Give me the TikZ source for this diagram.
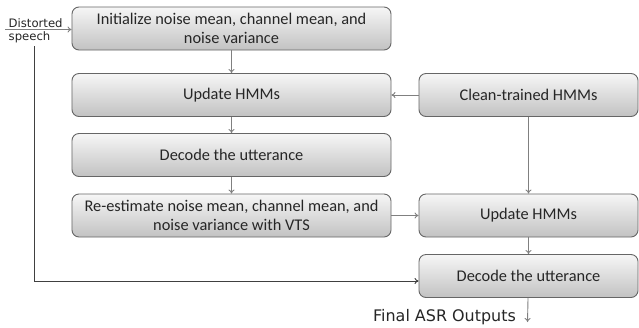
\documentclass[tikz,border=0pt]{standalone}
\usepackage{fontspec}
\setmainfont{Carlito}
\newfontfamily\lblfont{DejaVu Sans}
\usetikzlibrary{arrows.meta}
\definecolor{boxedge}{HTML}{666666}
\definecolor{boxtop}{HTML}{F6F6F6}
\definecolor{boxbot}{HTML}{C2C2C2}
\definecolor{linegray}{HTML}{808080}
\definecolor{txt}{HTML}{262626}
\begin{document}
\begin{tikzpicture}[x=1bp,y=-1bp,
  procbox/.style={draw=boxedge, line width=0.9bp, rounded corners=7bp,
    top color=boxtop, bottom color=boxbot, minimum height=43bp,
    inner sep=1bp, align=center, text=txt,
    font=\fontsize{16.4}{18.5}\selectfont},
  flow/.style={draw=linegray, line width=0.9bp, -{To[length=4bp,width=6bp]}},
  lbl/.style={text=txt, inner sep=0pt}]
\useasboundingbox (0,0) rectangle (639,327);
\fill[white] (0,0) rectangle (639,327);

\node[procbox, minimum width=319bp] (init) at (231.5,28.5)
  {Initialize noise mean, channel mean, and\\noise variance};
\node[procbox, minimum width=319bp] (upd1) at (231.5,95) {Update HMMs};
\node[procbox, minimum width=219bp] (clean) at (528.5,95) {Clean-trained HMMs};
\node[procbox, minimum width=319bp] (dec1) at (231.5,155) {Decode the utterance};
\node[procbox, minimum width=319bp] (reest) at (231.5,215.5)
  {Re-estimate noise mean, channel mean, and\\noise variance with VTS};
\node[procbox, minimum width=219bp] (upd2) at (528.5,215.5) {Update HMMs};
\node[procbox, minimum width=219bp] (dec2) at (528.5,276) {Decode the utterance};

\node[lbl, anchor=south west, font=\lblfont\fontsize{11.7}{13}\selectfont] (dist) at (8.5,28) {Distorted};
\node[lbl, anchor=north west, font=\lblfont\fontsize{11.7}{13}\selectfont] (speech) at (8.5,31) {speech};
\node[lbl, font=\lblfont\fontsize{16}{18}\selectfont] (final) at (444.5,317) {Final ASR Outputs};

\coordinate (inL) at (5,29.5);
\coordinate (fbTop) at (34,46);
\coordinate (fbCorner) at (34,281);
\coordinate (outEnd) at (527.5,322);

\draw[flow] (inL) -- (inL -| init.west);
\draw[flow] (init) -- (upd1);
\draw[flow] (upd1) -- (dec1);
\draw[flow] (dec1) -- (reest);
\draw[flow] (clean) -- (upd1);
\draw[flow] (reest) -- (upd2);
\draw[flow] (clean) -- (upd2);
\draw[flow] (upd2) -- (dec2);
\draw[flow] (dec2) -- (outEnd);
\draw[flow, draw=black!75] (fbTop) -- (fbCorner) -- (fbCorner -| dec2.west);
\end{tikzpicture}
\end{document}
